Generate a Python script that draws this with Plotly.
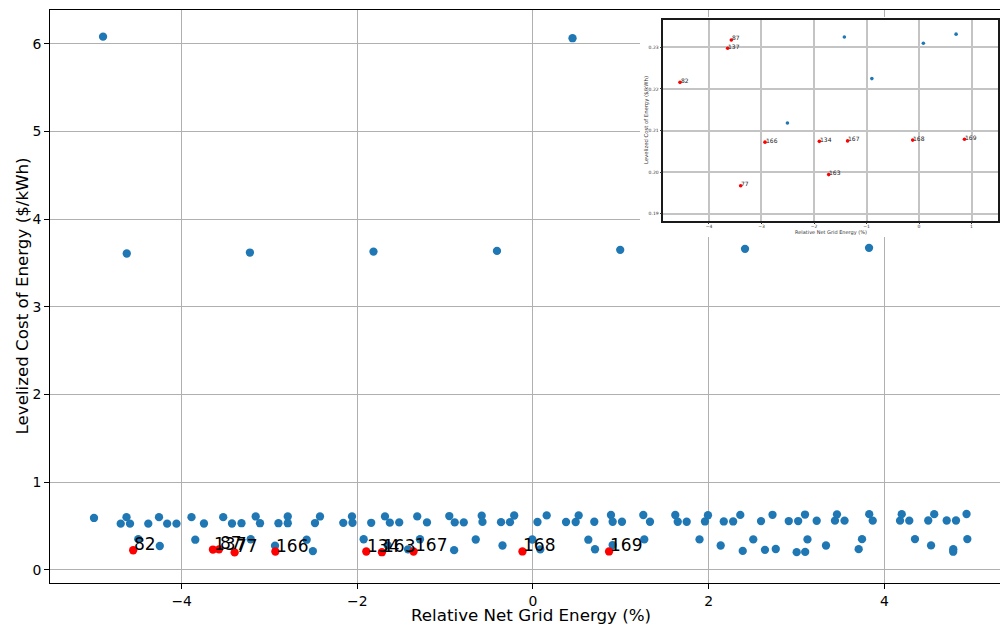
import plotly.graph_objects as go

# ---------------- data ----------------
blue_x = [
    # high-cost outliers
    -4.895, 0.450, -4.625, -3.223, -1.816, -0.410, 0.993, 2.414, 3.826,
    # upper band
    -4.998, -4.694, -4.628, -4.588, -4.380, -4.258, -4.165, -4.059, -3.888, -3.746,
    -3.527, -3.427, -3.319, -3.157, -3.108, -2.898, -2.792, -2.792, -2.482, -2.425,
    -2.160, -2.061, -2.055, -1.842, -1.685, -1.630, -1.523, -1.318, -1.207, -0.953,
    -0.891, -0.788, -0.584, -0.575, -0.364, -0.262, -0.214, 0.051, 0.156, 0.376,
    0.486, 0.520, 0.698, 0.888, 0.907, 1.013, 1.256, 1.332, 1.620, 1.648,
    1.750, 1.958, 1.992, 2.172, 2.279, 2.360, 2.596, 2.727, 2.912, 3.019,
    3.097, 3.230, 3.438, 3.461, 3.547, 3.828, 3.868, 4.179, 4.198, 4.284,
    4.500, 4.568, 4.710, 4.816, 4.936,
    # lower band
    -4.494, -4.249, -3.845, -3.214, -2.937, -2.577, -2.506, -1.928, -1.654, -1.422,
    -1.287, -0.898, -0.652, -0.347, -0.008, 0.083, 0.630, 0.706, 0.907, 1.267,
    1.896, 2.137, 2.388, 2.508, 2.641, 2.764, 3.002, 3.099, 3.125, 3.336,
    3.708, 3.746, 4.349, 4.532, 4.785, 4.784, 4.945,
]
blue_y = [
    6.081, 6.063, 3.607, 3.618, 3.629, 3.637, 3.649, 3.660, 3.672,
    0.590, 0.525, 0.599, 0.525, 0.525, 0.599, 0.525, 0.525, 0.599, 0.527,
    0.599, 0.527, 0.530, 0.607, 0.530, 0.530, 0.607, 0.530, 0.532, 0.607,
    0.534, 0.608, 0.535, 0.535, 0.608, 0.536, 0.539, 0.608, 0.539, 0.612,
    0.539, 0.539, 0.616, 0.545, 0.542, 0.542, 0.618, 0.544, 0.619, 0.544,
    0.544, 0.619, 0.547, 0.624, 0.547, 0.547, 0.624, 0.547, 0.624, 0.547,
    0.547, 0.550, 0.621, 0.550, 0.550, 0.625, 0.554, 0.626, 0.555, 0.555,
    0.629, 0.558, 0.559, 0.631, 0.559, 0.633, 0.559, 0.559, 0.633, 0.559,
    0.561, 0.633, 0.561, 0.561, 0.635,
    0.348, 0.270, 0.342, 0.347, 0.274, 0.342, 0.2118, 0.347, 0.277, 0.2325,
    0.347, 0.2225, 0.344, 0.276, 0.344, 0.2310, 0.342, 0.2332, 0.281, 0.345,
    0.345, 0.276, 0.214, 0.345, 0.226, 0.236, 0.200, 0.203, 0.345, 0.276,
    0.234, 0.348, 0.349, 0.277, 0.234, 0.205, 0.349,
]

red_labels = ["82", "137", "87", "77", "166", "134", "163", "167", "168", "169"]
red_x = [-4.552, -3.644, -3.575, -3.397, -2.933, -1.898, -1.720, -1.360, -0.120, 0.866]
red_y = [0.2216, 0.2298, 0.2318, 0.1967, 0.2072, 0.2074, 0.1994, 0.2075, 0.2077, 0.2079]

main_xticks = [-4, -2, 0, 2, 4]
main_xticklabels = ["\u22124", "\u22122", "0", "2", "4"]
main_yticks = [0, 1, 2, 3, 4, 5, 6]
main_yticklabels = ["0", "1", "2", "3", "4", "5", "6"]
inset_xticks = [-4, -3, -2, -1, 0, 1]
inset_xticklabels = ["\u22124", "\u22123", "\u22122", "\u22121", "0", "1"]
inset_yticks = [0.19, 0.20, 0.21, 0.22, 0.23]
inset_yticklabels = ["0.19", "0.20", "0.21", "0.22", "0.23"]

x_title = "Relative Net Grid Energy (%)"
y_title = "Levelized Cost of Energy ($/kWh)"

# ---------------- layout helpers ----------------
W, H = 1000, 625
ML, MR, MT, MB = 50, 0, 10, 42
PW, PH = W - ML - MR, H - MT - MB
FONT = "DejaVu Sans"
BLUE = "#1f77b4"
RED = "#ff0000"


def fx(px):
    return (px - ML) / PW


def fy(py):
    return (H - MB - py) / PH


fig = go.Figure()

# main chart
fig.add_trace(go.Scatter(x=blue_x, y=blue_y, mode="markers", xaxis="x", yaxis="y",
                         marker=dict(color=BLUE, size=8.3, line=dict(width=0)),
                         showlegend=False, hoverinfo="skip"))
fig.add_trace(go.Scatter(x=red_x, y=red_y, mode="markers", xaxis="x", yaxis="y",
                         marker=dict(color=RED, size=8.3, line=dict(width=0)),
                         showlegend=False, hoverinfo="skip"))

# blank white backing for the inset picture
fig.add_trace(go.Scatter(x=[None], y=[None], mode="markers", xaxis="x2", yaxis="y2",
                         showlegend=False, hoverinfo="skip"))

# inset
fig.add_trace(go.Scatter(x=blue_x, y=blue_y, mode="markers", xaxis="x3", yaxis="y3",
                         marker=dict(color=BLUE, size=3.6, line=dict(width=0)),
                         showlegend=False, hoverinfo="skip"))
fig.add_trace(go.Scatter(x=red_x, y=red_y, mode="markers", xaxis="x3", yaxis="y3",
                         marker=dict(color=RED, size=3.6, line=dict(width=0)),
                         showlegend=False, hoverinfo="skip"))

annotations = []
for lx, ly, lt in zip(red_x, red_y, red_labels):
    annotations.append(dict(x=lx, y=ly, xref="x", yref="y", text=lt, showarrow=False,
                            xanchor="left", yanchor="bottom", borderpad=0, borderwidth=0,
                            xshift=1, yshift=-4,
                            font=dict(family=FONT, size=17, color="black")))
    annotations.append(dict(x=lx, y=ly, xref="x3", yref="y3", text=lt, showarrow=False,
                            xanchor="left", yanchor="bottom", borderpad=0, borderwidth=0,
                            xshift=0.5, yshift=-1.5,
                            font=dict(family=FONT, size=6, color="#222222")))

# main axis titles
annotations.append(dict(x=fx(531), y=fy(615), xref="paper", yref="paper", text=x_title,
                        showarrow=False, xanchor="center", yanchor="middle",
                        font=dict(family=FONT, size=16.7, color="black")))
annotations.append(dict(x=fx(21), y=fy(296.5), xref="paper", yref="paper", text=y_title,
                        showarrow=False, xanchor="center", yanchor="middle", textangle=-90,
                        font=dict(family=FONT, size=16.7, color="black")))
# inset axis titles
annotations.append(dict(x=fx(830.5), y=fy(232.5), xref="paper", yref="paper", text=x_title,
                        showarrow=False, xanchor="center", yanchor="middle",
                        font=dict(family=FONT, size=5, color="#333333")))
annotations.append(dict(x=fx(646), y=fy(120), xref="paper", yref="paper", text=y_title,
                        showarrow=False, xanchor="center", yanchor="middle", textangle=-90,
                        font=dict(family=FONT, size=5.3, color="#333333")))

grid = "#b0b0b0"
fig.update_layout(
    width=W, height=H,
    margin=dict(l=ML, r=MR, t=MT, b=MB, pad=0),
    paper_bgcolor="white", plot_bgcolor="white",
    font=dict(family=FONT, color="black"),
    showlegend=False,
    xaxis=dict(domain=[0, 1], range=[-5.499, 5.317], tickvals=main_xticks,
               ticktext=main_xticklabels, showgrid=True, gridcolor=grid, gridwidth=1,
               zeroline=False, showline=True, linecolor="black", linewidth=1, mirror=True,
               ticks="outside", ticklen=5, tickwidth=1, tickcolor="black",
               tickfont=dict(family=FONT, size=13.9, color="black")),
    yaxis=dict(domain=[0, 1], range=[-0.152, 6.385], tickvals=main_yticks,
               ticktext=main_yticklabels, showgrid=True, gridcolor=grid, gridwidth=1,
               zeroline=False, showline=True, linecolor="black", linewidth=1, mirror=False,
               ticks="outside", ticklen=5, tickwidth=1, tickcolor="black",
               tickfont=dict(family=FONT, size=13.9, color="black")),
    xaxis2=dict(domain=[fx(640), fx(1000)], range=[0, 1], anchor="y2", visible=False,
                showgrid=False, zeroline=False),
    yaxis2=dict(domain=[fy(237), fy(17)], range=[0, 1], anchor="x2", visible=False,
                showgrid=False, zeroline=False),
    xaxis3=dict(domain=[fx(663.3), fx(998.3)], range=[-4.87, 1.51], anchor="y3",
                tickvals=inset_xticks, ticktext=inset_xticklabels,
                showgrid=True, gridcolor="#c4c4c4", gridwidth=1.5, zeroline=False,
                showline=True, linecolor="#1a1a1a", linewidth=1.5, mirror=True,
                ticks="outside", ticklen=2, tickwidth=0.8, tickcolor="#333333",
                ticklabelstandoff=-2,
                tickfont=dict(family=FONT, size=4.5, color="#333333")),
    yaxis3=dict(domain=[fy(220.7), fy(20)], range=[0.1883, 0.2366], anchor="x3",
                tickvals=inset_yticks, ticktext=inset_yticklabels,
                showgrid=True, gridcolor="#c4c4c4", gridwidth=1.5, zeroline=False,
                showline=True, linecolor="#1a1a1a", linewidth=1.5, mirror=True,
                ticks="outside", ticklen=2, tickwidth=0.8, tickcolor="#333333",
                tickfont=dict(family=FONT, size=4.5, color="#333333")),
    annotations=annotations,
)

fig.write_html("out.html", config={"displayModeBar": False})
